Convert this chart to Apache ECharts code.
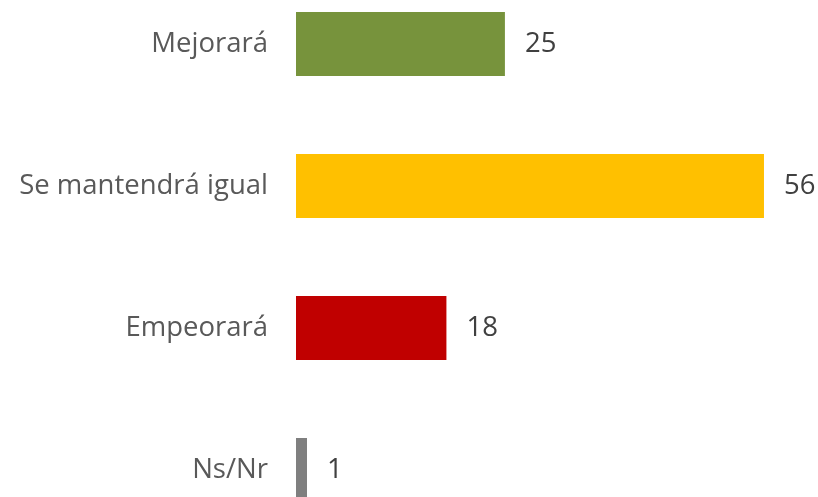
<!DOCTYPE html>
<html><head><meta charset="utf-8">
<script src="https://cdn.jsdelivr.net/npm/echarts@6/dist/echarts.min.js"></script>
<style>html,body{margin:0;padding:0;background:#fff;overflow:hidden;width:818px;height:497px}#c{width:818px;height:568px;margin-top:-27px}</style>
</head><body><div id="c"></div>
<script>
const categories = ["Mejorará", "Se mantendrá igual", "Empeorará", "Ns/Nr"];
const values = [25, 56, 18, 1];
const colors = ["#77933C", "#FFC000", "#C00000", "#7F7F7F"];

const chart = echarts.init(document.getElementById('c'), null, {renderer: 'canvas'});
chart.setOption({
  animation: false,
  grid: {left: 296, top: 0, height: 568, width: 501.4, containLabel: false},
  xAxis: {type: 'value', min: 0, max: 60, show: false},
  yAxis: {
    type: 'category', data: categories, inverse: true,
    axisLine: {show: false}, axisTick: {show: false},
    axisLabel: {margin: 28, fontFamily: 'Open Sans', fontSize: 27.5, color: '#595959'}
  },
  series: [{
    type: 'bar', barWidth: 64, barMinHeight: 11,
    data: values.map((v, i) => ({value: v, itemStyle: {color: colors[i]}})),
    label: {show: true, position: 'right', distance: 20, fontFamily: 'Open Sans', fontSize: 27.5, color: '#404040'}
  }]
});
</script></body></html>
